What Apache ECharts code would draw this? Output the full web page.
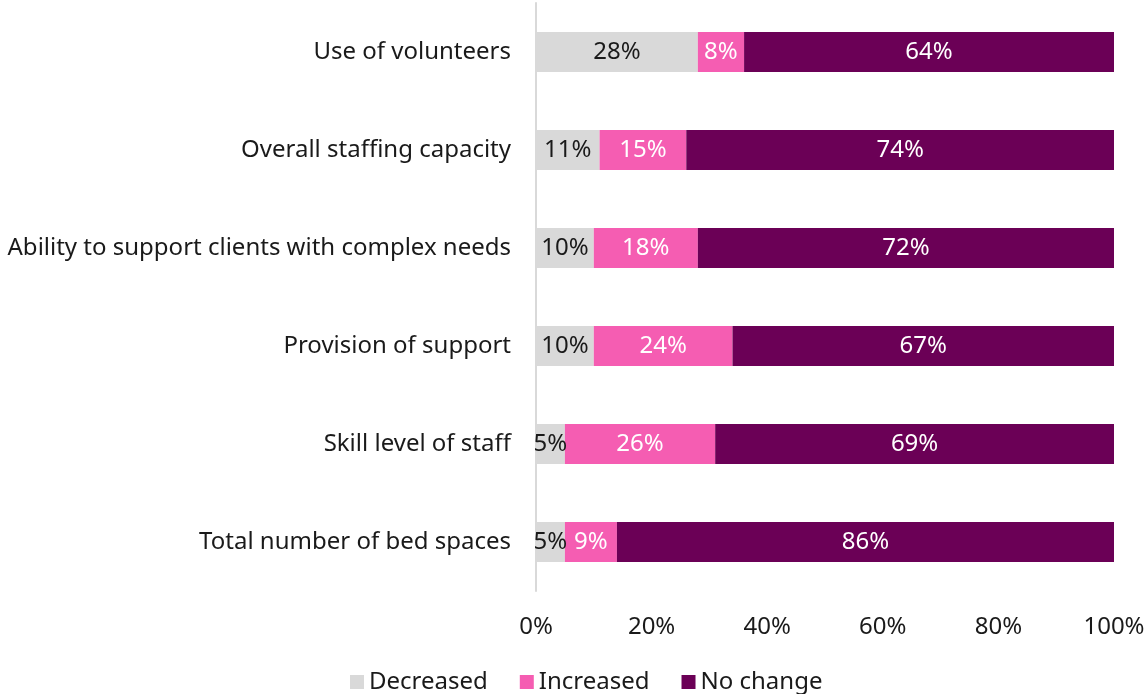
<!DOCTYPE html>
<html>
<head>
<meta charset="utf-8">
<script src="https://cdn.jsdelivr.net/npm/echarts@6/dist/echarts.min.js"></script>
<style>
  html, body { margin: 0; padding: 0; background: #ffffff; }
  #chart { width: 1144px; height: 694px; }
</style>
</head>
<body>
<div id="chart"></div>
<script>
// Survey items, top to bottom
const categories = [
  'Use of volunteers',
  'Overall staffing capacity',
  'Ability to support clients with complex needs',
  'Provision of support',
  'Skill level of staff',
  'Total number of bed spaces'
];

// Share of respondents (%) per answer
const decreased = [28, 11, 10, 10, 5, 5];
const increased = [8, 15, 18, 24, 26, 9];
const noChange  = [64, 74, 72, 67, 69, 86];

const seriesNames = ['Decreased', 'Increased', 'No change'];
const colors = ['#d9d9d9', '#f55db2', '#6b0056'];
const labelColors = ['#1a1a1a', '#ffffff', '#ffffff'];

const FONT = '"Noto Sans", "Open Sans", sans-serif';
const FS = 24;

const chart = echarts.init(document.getElementById('chart'), null, { renderer: 'canvas' });

const values = [decreased, increased, noChange];

chart.setOption({
  animation: false,
  textStyle: { fontFamily: FONT },
  grid: {
    left: 536, right: 30, top: 3, bottom: 103,
    containLabel: false,
    outerBoundsMode: 'none'
  },
  legend: {
    bottom: -5,
    left: 345,
    itemWidth: 14,
    itemHeight: 14,
    itemGap: 32,
    icon: 'rect',
    textStyle: { fontFamily: FONT, fontSize: FS, color: '#1a1a1a' },
    data: seriesNames
  },
  xAxis: {
    type: 'value',
    min: 0,
    max: 100,
    interval: 20,
    axisLine: { show: false },
    axisTick: { show: false },
    splitLine: { show: false },
    axisLabel: {
      formatter: '{value}%',
      fontFamily: FONT,
      fontSize: FS,
      color: '#1a1a1a',
      margin: 24
    }
  },
  yAxis: {
    type: 'category',
    inverse: true,
    data: categories,
    axisLine: { show: true, lineStyle: { color: '#d9d9d9', width: 2 } },
    axisTick: { show: false },
    axisLabel: {
      fontFamily: FONT,
      fontSize: FS,
      color: '#1a1a1a',
      margin: 25
    }
  },
  series: seriesNames.map((name, i) => ({
    name: name,
    type: 'bar',
    stack: 'total',
    barWidth: 40,
    clip: true,
    itemStyle: { color: colors[i] },
    label: {
      show: true,
      position: 'inside',
      formatter: p => p.value + '%',
      fontFamily: FONT,
      fontSize: FS,
      color: labelColors[i]
    },
    data: values[i]
  }))
});
</script>
</body>
</html>
